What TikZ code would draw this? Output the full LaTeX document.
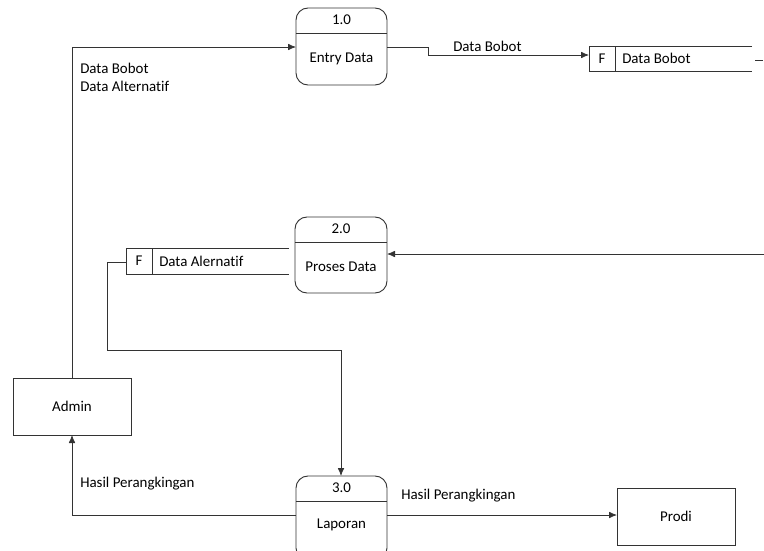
\documentclass[tikz,border=0pt]{standalone}
\usepackage{fontspec}
\setmainfont{Carlito}[RawFeature={-liga}]
\usetikzlibrary{arrows.meta}
\begin{document}
\begin{tikzpicture}[x=0.75pt,y=-0.75pt,
  every node/.style={font=\fontsize{11.2}{13}\selectfont},
  line/.style={draw=black!80,line width=0.6pt},
  arr/.style={line,-{Latex[length=6pt,width=5pt]}},
  lbl/.style={anchor=west,inner sep=0pt},
  proc/.style={draw=black!80,line width=0.7pt,rounded corners=9pt}]
\useasboundingbox (0,0) rectangle (764,550);
% processes
\draw[proc] (296,8) rectangle (387,85);
\draw[line] (296,33) -- (387,33);
\node (p1n) at (341.5,20) {1.0};
\node (p1) at (341.5,59) {Entry Data};
\coordinate (p1w) at (296,47);
\coordinate (p1e) at (387,47);

\draw[proc] (295,217) rectangle (387,293);
\draw[line] (295,242) -- (387,242);
\node (p2n) at (341,229) {2.0};
\node (p2) at (341,267) {Proses Data};
\coordinate (p2e) at (387,254);
\coordinate (p2r) at (764,254);

\begin{scope}
\clip (0,0) rectangle (764,550);
\draw[proc] (296,476) rectangle (387,560);
\end{scope}
\draw[line] (296,501) -- (387,501);
\node (p3n) at (341.5,488) {3.0};
\node (p3) at (341.5,525) {Laporan};
\coordinate (p3n0) at (341,476);
\coordinate (p3e) at (387,515);
\coordinate (p3w) at (296,515);

% entities
\draw[line] (13,378) rectangle (131,435);
\node (admin) at (72,406.5) {Admin};
\coordinate (admT) at (72,378);
\coordinate (admB) at (72,435);
\draw[line] (617,488) rectangle (735,545);
\node (prodi) at (676,516.5) {Prodi};
\coordinate (prodW) at (617,515);

% data stores
\draw[line] (752,46) -- (589,46) -- (589,71) -- (752,71);
\draw[line] (615,46) -- (615,71);
\node (sF1) at (602,58.5) {F};
\node[lbl] (s1) at (622,58.5) {Data Bobot};
\coordinate (s1w) at (589,55);
\draw[line] (755,60) -- (763,60);

\draw[line] (289,248) -- (126,248) -- (126,274) -- (289,274);
\draw[line] (152,248) -- (152,274);
\node (sF2) at (139,261) {F};
\node[lbl] (s2) at (159,261) {Data Alernatif};
\coordinate (s2w) at (126,262);

% flows
\draw[arr] (admT) -- (72,47) -- (p1w);
\draw[arr] (p1e) -- (428,47) -- (428,55) -- (s1w);
\draw[arr] (p2r) -- (p2e);
\draw[arr] (s2w) -- (107,262) -- (107,350) -- (341,350) -- (p3n0);
\draw[arr] (p3e) -- (prodW);
\draw[arr] (p3w) -- (72,515) -- (admB);

% labels
\node[lbl] (l1) at (453,46) {Data Bobot};
\node[lbl] (l2) at (80,68) {Data Bobot};
\node[lbl] (l3) at (80,86) {Data Alternatif};
\node[lbl] (l4) at (80,484) {Hasil Perangkingan};
\node[lbl] (l5) at (401,496) {Hasil Perangkingan};
\end{tikzpicture}
\end{document}
